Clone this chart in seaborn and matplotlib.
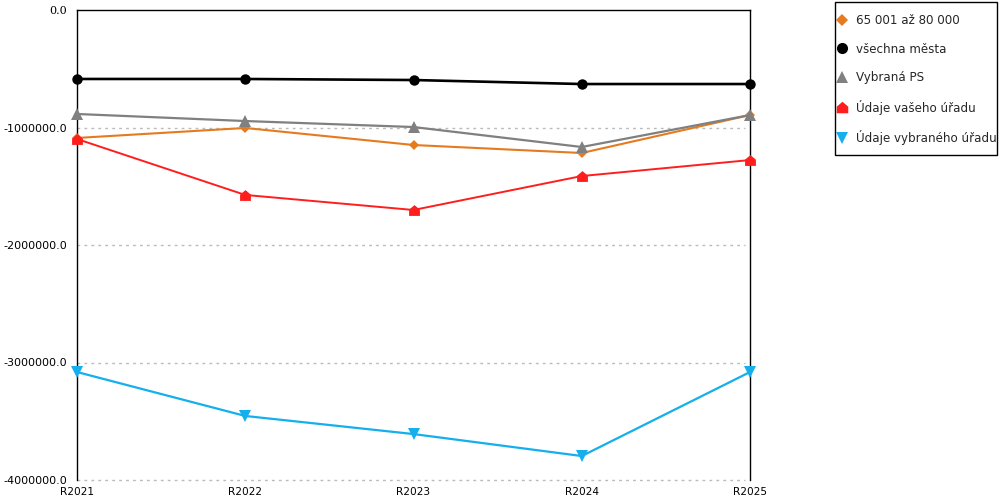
import matplotlib
matplotlib.use("Agg")
import matplotlib.pyplot as plt
from matplotlib.path import Path
from matplotlib.patches import Rectangle
from matplotlib.ticker import FixedLocator, FuncFormatter
import seaborn as sns
import pandas as pd

years = ["R2021", "R2022", "R2023", "R2024", "R2025"]
s_orange = [-1089000, -1004000, -1149000, -1217000, -894000]
s_black = [-587000, -587000, -596000, -630000, -630000]
s_gray = [-885000, -945000, -996000, -1166000, -894000]
s_red = [-1098000, -1574000, -1702000, -1413000, -1277000]
s_blue = [-3081000, -3455000, -3609000, -3796000, -3081000]
names = ["65 001 až 80 000", "všechna města", "Vybraná PS", "Údaje vašeho úřadu", "Údaje vybraného úřadu"]
yticks = [0, -1000000, -2000000, -3000000, -4000000]

sns.set_style("white")
plt.rcParams['font.family'] = ['DejaVu Sans']

house = Path([(-1, -1), (1, -1), (1, 0.15), (0, 1), (-1, 0.15), (-1, -1)],
             [Path.MOVETO, Path.LINETO, Path.LINETO, Path.LINETO, Path.LINETO, Path.CLOSEPOLY])

series = [s_orange, s_black, s_gray, s_red, s_blue]
colors = ["#E57A1E", "#000000", "#808080", "#FF1E1E", "#14AFEC"]
markers = ["D", "o", "^", house, "v"]
msizes = [5.5, 7.5, 8, 7.8, 8.5]
leg_msizes = [6.5, 8, 8.5, 8.3, 9]
lws = [1.5, 1.9, 1.6, 1.4, 1.6]

fig = plt.figure(figsize=(10, 5), dpi=100)
ax = fig.add_axes([0.077, 0.04, 0.673, 0.94])

x = list(range(len(years)))
for s, c, m, ms, lw, n in zip(series, colors, markers, msizes, lws, names):
    df = pd.DataFrame({"x": x, "y": s})
    sns.lineplot(data=df, x="x", y="y", ax=ax, color=c, marker=m, markersize=ms,
                 markeredgewidth=0, linewidth=lw, label=n, clip_on=False, zorder=3)

ax.set_xlim(0, 4)
ax.set_ylim(-4000000, 0)
ax.set_xlabel("")
ax.set_ylabel("")
ax.xaxis.set_major_locator(FixedLocator(x))
ax.set_xticklabels(years)
ax.xaxis.set_minor_locator(FixedLocator([0.5, 1.5, 2.5, 3.5]))
ax.yaxis.set_major_locator(FixedLocator(yticks))
ax.yaxis.set_major_formatter(FuncFormatter(lambda v, p: f"{v:.1f}"))
ax.tick_params(axis="x", which="both", direction="inout", length=10, width=1, colors="black",
               labelsize=7.6, pad=0)
ax.tick_params(axis="y", which="major", direction="inout", length=12, width=1, colors="black",
               labelsize=8, pad=1)
for t in ax.get_yticklabels():
    if t.get_text() == "0.0":
        t.set_family("DejaVu Serif")

for y in yticks[1:]:
    ax.axhline(y, xmin=0, xmax=0.993, color="#bbbbbb", linestyle=(0, (2, 3)), linewidth=1,
               zorder=1, clip_on=False)

for side in ["left", "top", "right"]:
    ax.spines[side].set_visible(True)
    ax.spines[side].set_color("black")
    ax.spines[side].set_linewidth(1.0)
ax.spines["bottom"].set_visible(False)

ax.get_legend().remove()
handles, labels = ax.get_legend_handles_labels()
leg = fig.legend(handles, labels, loc="upper left", bbox_to_anchor=(0.834, 0.979),
                 bbox_transform=fig.transFigure, frameon=False, fontsize=8.6,
                 handlelength=0.8, handletextpad=0.75, labelspacing=1.3,
                 borderpad=0.3, borderaxespad=0)
for h, ms in zip(leg.legend_handles, leg_msizes):
    h.set_linestyle("None")
    h.set_markersize(ms)
fig.patches.append(Rectangle((0.835, 1 - 155 / 500), 0.162, 153 / 500, fill=False,
                             edgecolor="black", linewidth=1.0, transform=fig.transFigure,
                             figure=fig))

fig.savefig("out.png", dpi=100)
